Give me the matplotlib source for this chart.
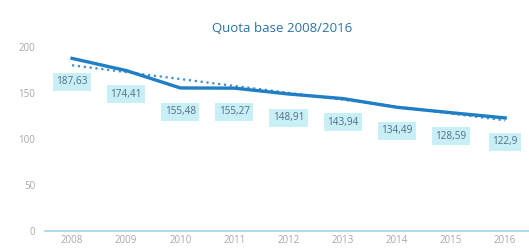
import numpy as np
import matplotlib.pyplot as plt

years = ['2008', '2009', '2010', '2011', '2012', '2013', '2014', '2015', '2016']
quota = [187.63, 174.41, 155.48, 155.27, 148.91, 143.94, 134.49, 128.59, 122.9]
labels = ['187,63', '174,41', '155,48', '155,27', '148,91', '143,94', '134,49', '128,59', '122,9']

plt.rcParams['font.family'] = ['Open Sans', 'DejaVu Sans']

x = np.arange(len(years))
fig = plt.figure(figsize=(5.29, 2.5), dpi=100)
ax = fig.add_axes([0.085, 0.076, 0.915, 0.736])

# linear trend (as in the original spreadsheet)
coef = np.polyfit(x, quota, 1)
ax.plot(x, np.polyval(coef, x), ':', color='#3a8fd0', linewidth=1.6, zorder=2)
ax.plot(x, quota, '-', color='#1f7ec4', linewidth=2.4, zorder=3)

for xi, v, lab in zip(x, quota, labels):
    ax.annotate(lab, (xi, v), xytext=(0, -17), textcoords='offset points',
                ha='center', va='center', fontsize=7.2, color='#4f6f86',
                bbox=dict(boxstyle='square,pad=0.35', fc='#c8eff6', ec='none'))

ax.set_xlim(-0.5, 8.44)
ax.set_ylim(0, 200)
ax.set_yticks([0, 50, 100, 150, 200])
ax.set_xticks(x)
ax.set_xticklabels(years)
ax.tick_params(length=0, labelsize=7, labelcolor='#a8a8a8', pad=7)
ax.tick_params(axis='x', pad=3)
for s in ['top', 'right', 'left']:
    ax.spines[s].set_visible(False)
ax.spines['bottom'].set_color('#9fd4ea')
ax.spines['bottom'].set_linewidth(1.2)

fig.text(0.533, 0.888, 'Quota base 2008/2016', ha='center', va='center',
         fontsize=9.5, color='#2a72a8')

plt.savefig('out.png', dpi=100)
